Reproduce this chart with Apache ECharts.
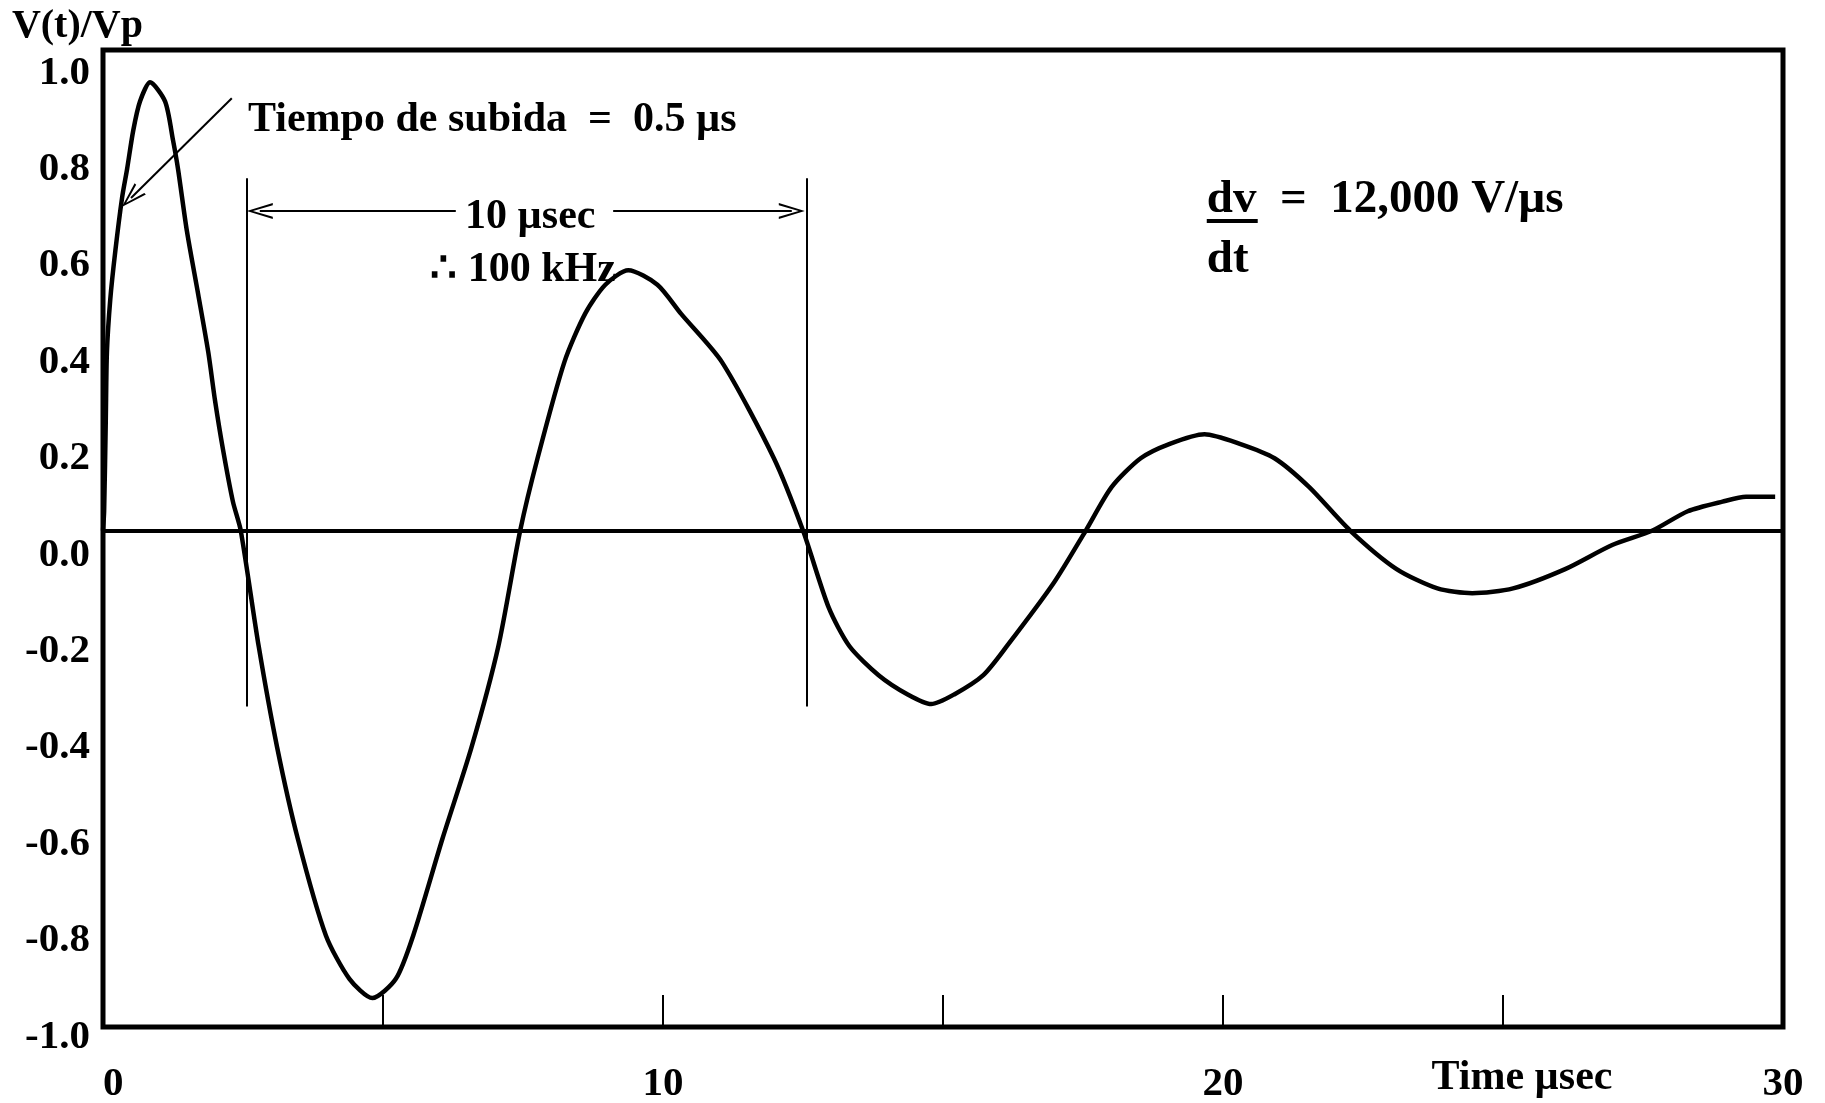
<!DOCTYPE html>
<html>
<head>
<meta charset="utf-8">
<script src="https://cdn.jsdelivr.net/npm/echarts@6/dist/echarts.min.js"></script>
<style>
html,body{margin:0;padding:0;background:#fff;}
#chart{width:1825px;height:1103px;}
</style>
</head>
<body>
<div id="chart"></div>
<script>
// ---- data ----
const timeUs = [0, 0.02, 0.05, 0.07, 0.13, 0.22, 0.34, 0.43, 0.54, 0.66,
  0.84, 1.11, 1.25, 1.34, 1.50, 1.70, 1.88, 2.00, 2.14, 2.32,
  2.46, 2.78, 3.11, 3.48, 3.98, 4.40, 4.81, 5.23, 5.54, 6.06,
  6.58, 7.06, 7.45, 7.76, 8.24, 8.61, 8.97, 9.38, 9.90, 10.32,
  11.05, 11.98, 12.50, 12.96, 13.33, 13.85, 14.37, 14.79, 15.20, 15.72,
  16.14, 16.97, 17.55, 18.01, 18.53, 19.05, 19.67, 20.30, 20.92, 21.54,
  22.27, 23.10, 23.83, 24.45, 25.18, 26.11, 26.95, 27.67, 28.30, 28.92,
  29.34, 29.86];
const voltageRatio = [0.03, 0.07, 0.26, 0.40, 0.51, 0.61, 0.72, 0.78, 0.86, 0.92,
  0.96, 0.92, 0.84, 0.78, 0.65, 0.52, 0.40, 0.30, 0.20, 0.09,
  0.03, -0.21, -0.42, -0.61, -0.81, -0.90, -0.94, -0.90, -0.81, -0.61,
  -0.42, -0.21, 0.03, 0.18, 0.38, 0.48, 0.54, 0.57, 0.54, 0.48,
  0.38, 0.18, 0.03, -0.13, -0.21, -0.27, -0.31, -0.33, -0.31, -0.27,
  -0.21, -0.08, 0.03, 0.12, 0.18, 0.21, 0.23, 0.21, 0.18, 0.12,
  0.03, -0.05, -0.09, -0.10, -0.09, -0.05, 0.00, 0.03, 0.07, 0.09,
  0.10, 0.10];
const xLabelValues = [0, 10, 20, 30];
const baselineLevel = 0.03;
// annotation anchors (time µs, V/Vp)
const periodMarkTimes = [2.57, 12.57];
const periodMarkRange = [0.761, -0.335];
const periodArrowLevel = 0.693;
const periodArrowGap = [6.30, 9.11];
const periodArrowHeads = [2.80, 12.30];
const riseArrow = [[2.30, 0.927], [0.50, 0.72]];
const dvUnderline = [[19.71, 0.672], [20.62, 0.672]];
const annotationTexts = [
  {text: 'Tiempo de subida  =  0.5 µs', at: [2.59, 0.882], align: 'left', size: 42},
  {text: '10 µsec', at: [7.63, 0.680], align: 'center', size: 42},
  {text: '∴ 100 kHz', at: [7.50, 0.571], align: 'center', size: 42},
  {text: 'dv  =  12,000 V/µs', at: [19.71, 0.716], align: 'left', size: 47},
  {text: 'dt', at: [19.71, 0.591], align: 'left', size: 47}
];

const FONT = '"Liberation Serif","Times New Roman",serif';
const chevron = 'path://M5,0 L10,16 L8.6,16 L5,3.8 L1.4,16 L0,16 Z';

const chart = echarts.init(document.getElementById('chart'), null, {renderer: 'canvas'});

const wave = timeUs.map((t, i) => [t, voltageRatio[i]]);

const thin = {color: '#000', width: 2, type: 'solid'};

const option = {
  backgroundColor: '#fff',
  animation: false,
  grid: {
    left: 103, right: 42, top: 50, bottom: 76,
    show: true, borderColor: '#000', borderWidth: 5,
    backgroundColor: 'transparent',
    outerBoundsMode: 'none', containLabel: false
  },
  xAxis: {
    type: 'value', min: 0, max: 30, interval: 5,
    name: 'Time µsec', nameLocation: 'end', nameGap: -261,
    nameMoveOverlap: false,
    nameTextStyle: {fontFamily: FONT, fontWeight: 'bold', fontSize: 42, color: '#000',
      align: 'center', verticalAlign: 'top', lineHeight: 102},
    axisLine: {show: false, onZero: false},
    axisTick: {show: true, inside: true, length: 32, lineStyle: {color: '#000', width: 2}},
    splitLine: {show: false},
    axisLabel: {
      margin: 37, fontFamily: FONT, fontWeight: 'bold', fontSize: 41, color: '#000',
      showMinLabel: true, showMaxLabel: true, alignMinLabel: 'left',
      formatter: v => xLabelValues.some(x => Math.abs(x - v) < 1e-6) ? String(Math.round(v)) : ''
    }
  },
  yAxis: {
    type: 'value', min: -1, max: 1.027, interval: 0.2,
    name: 'V(t)/Vp', nameLocation: 'end', nameGap: 3,
    nameMoveOverlap: false,
    nameTextStyle: {fontFamily: FONT, fontWeight: 'bold', fontSize: 40, color: '#000',
      align: 'right', padding: [0, -40, 0, 0]},
    axisLine: {show: false},
    axisTick: {show: false},
    splitLine: {show: false},
    axisLabel: {
      margin: 13, fontFamily: FONT, fontWeight: 'bold', fontSize: 41, color: '#000',
      verticalAlign: 'top', lineHeight: 20,
      formatter: v => {
        const r = Math.round(v * 5) / 5;
        if (Math.abs(r - v) > 1e-6 || r > 1.0001) return '';
        return r.toFixed(1);
      }
    }
  },
  series: [
    {
      name: 'V(t)/Vp', type: 'line', data: wave,
      showSymbol: false, smooth: 0.25,
      lineStyle: {color: '#000', width: 4.5},
      silent: true, z: 3,
      markLine: {
        silent: true, symbol: ['none', 'none'],
        label: {show: false},
        lineStyle: {color: '#000', width: 4, type: 'solid'},
        data: [{yAxis: baselineLevel}]
      }
    },
    {
      name: 'annotations', type: 'scatter',
      symbolSize: 1, itemStyle: {color: '#fff', opacity: 0},
      silent: true, z: 4,
      data: annotationTexts.map(a => ({
        value: a.at,
        label: {
          show: true, position: 'inside', align: a.align, verticalAlign: 'middle',
          formatter: a.text, fontFamily: FONT, fontWeight: 'bold', fontSize: a.size,
          color: '#000', opacity: 1, textBorderWidth: 0, textBorderColor: 'transparent'
        }
      })),
      markLine: {
        silent: true, symbol: ['none', 'none'], symbolSize: [16, 26],
        label: {show: false},
        lineStyle: thin,
        data: [
          [{coord: [periodMarkTimes[0], periodMarkRange[0]]}, {coord: [periodMarkTimes[0], periodMarkRange[1]]}],
          [{coord: [periodMarkTimes[1], periodMarkRange[0]]}, {coord: [periodMarkTimes[1], periodMarkRange[1]]}],
          [{coord: [periodArrowHeads[0], periodArrowLevel], symbol: chevron, symbolSize: [16, 26]},
           {coord: [periodArrowGap[0], periodArrowLevel], symbol: 'none'}],
          [{coord: [periodArrowGap[1], periodArrowLevel], symbol: 'none'},
           {coord: [periodArrowHeads[1], periodArrowLevel], symbol: chevron, symbolSize: [16, 26]}],
          [{coord: riseArrow[0], symbol: 'none'}, {coord: riseArrow[1], symbol: chevron, symbolSize: [16, 26]}],
          [{coord: dvUnderline[0], lineStyle: {width: 4, color: '#000'}},
           {coord: dvUnderline[1]}]
        ]
      }
    }
  ]
};

chart.setOption(option);
</script>
</body>
</html>
